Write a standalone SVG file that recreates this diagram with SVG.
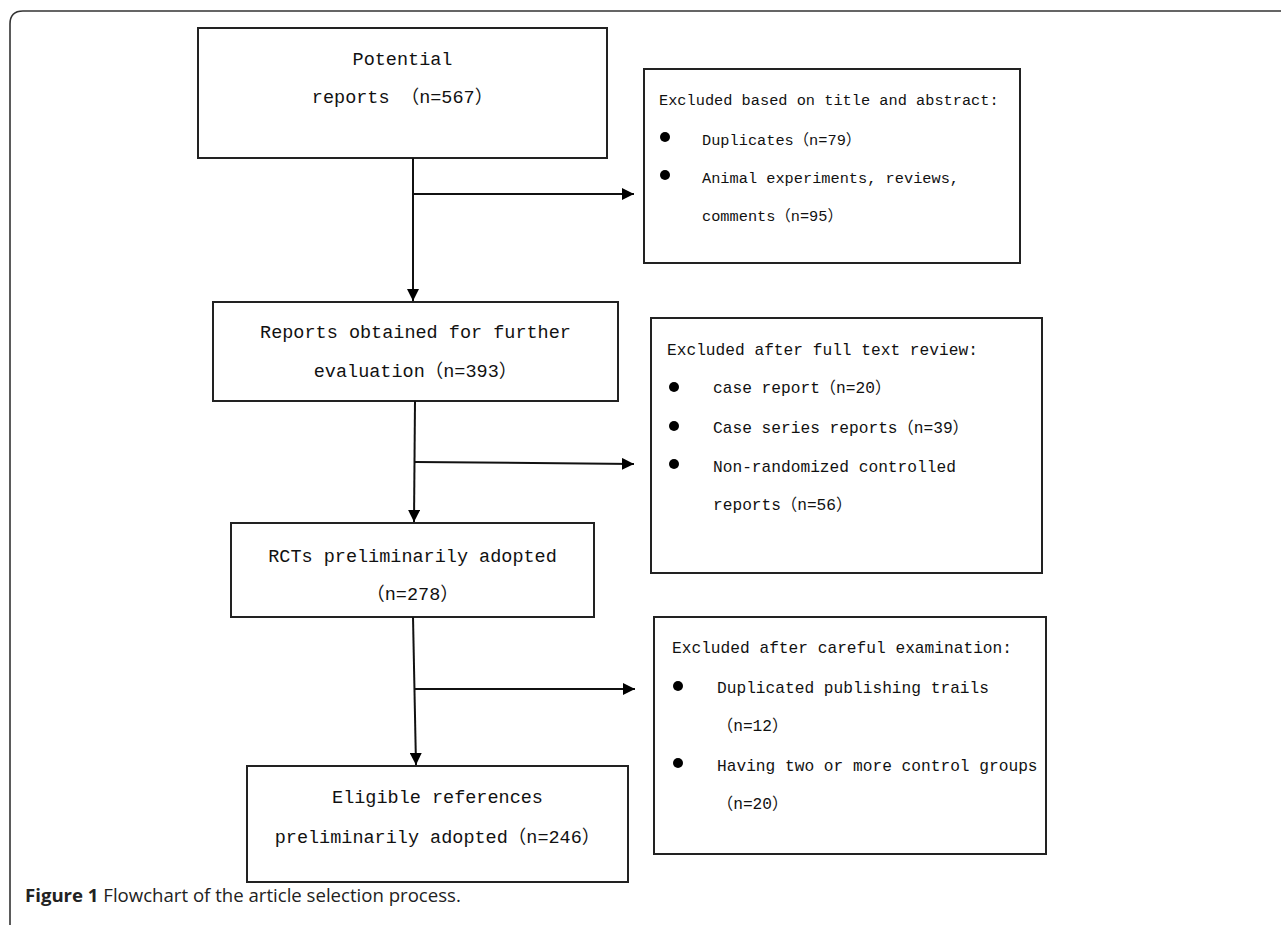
<svg xmlns="http://www.w3.org/2000/svg" width="1281" height="925" viewBox="0 0 1281 925">
<defs>
<style>
.box{fill:#fff;stroke:#222;stroke-width:2}
.t{font-family:"Liberation Mono","Noto Sans CJK SC",monospace;fill:#111}
.tl{font-size:18.5px}
.tr{font-size:16.2px}
.tr2{font-size:15.3px}
.c{text-anchor:middle}
.ln{stroke:#111;stroke-width:2;fill:none}
.bul{fill:#000}
.cap{font-family:"Open Sans","Liberation Sans",sans-serif;font-size:18.6px;fill:#222}
</style>
<marker id="ah" viewBox="0 0 10 10" refX="10" refY="5" markerWidth="6" markerHeight="6" markerUnits="strokeWidth" orient="auto">
<path d="M0,0 L10,5 L0,10 Z" fill="#000"/>
</marker>
</defs>
<rect width="1281" height="925" fill="#fff"/>
<path d="M10,925 V24 Q10,11 23,11 H1281" fill="none" stroke="#333" stroke-width="1.6"/>

<g id="n1">
<rect class="box" x="198" y="28" width="409" height="130"/>
<text class="t tl c" x="402.5" y="65">Potential</text>
<text class="t tl c" x="402.5" y="103">reports （n=567）</text>
</g>

<g id="n2">
<rect class="box" x="644" y="69" width="376" height="194"/>
<text class="t tr2" x="659" y="105">Excluded based on title and abstract:</text>
<circle class="bul" cx="665" cy="137" r="5"/>
<text class="t tr2" x="702" y="145">Duplicates（n=79）</text>
<circle class="bul" cx="665" cy="175" r="5"/>
<text class="t tr2" x="702" y="183">Animal experiments, reviews,</text>
<text class="t tr2" x="702" y="221">comments（n=95）</text>
</g>

<g id="n3">
<rect class="box" x="213" y="302" width="405" height="99"/>
<text class="t tl c" x="415.5" y="338">Reports obtained for further</text>
<text class="t tl c" x="415.5" y="377">evaluation（n=393）</text>
</g>

<g id="n4">
<rect class="box" x="651" y="318" width="391" height="255"/>
<text class="t tr" x="667" y="355">Excluded after full text review:</text>
<circle class="bul" cx="674" cy="387" r="5"/>
<text class="t tr" x="713" y="393">case report（n=20）</text>
<circle class="bul" cx="674" cy="426" r="5"/>
<text class="t tr" x="713" y="433">Case series reports（n=39）</text>
<circle class="bul" cx="674" cy="464" r="5"/>
<text class="t tr" x="713" y="472">Non-randomized controlled</text>
<text class="t tr" x="713" y="510">reports（n=56）</text>
</g>

<g id="n5">
<rect class="box" x="231" y="523" width="363" height="94"/>
<text class="t tl c" x="412.5" y="562">RCTs preliminarily adopted</text>
<text class="t tl c" x="412.5" y="600">（n=278）</text>
</g>

<g id="n6">
<rect class="box" x="247" y="766" width="381" height="116"/>
<text class="t tl c" x="437.5" y="803">Eligible references</text>
<text class="t tl c" x="437.5" y="843">preliminarily adopted（n=246）</text>
</g>

<g id="n7">
<rect class="box" x="654" y="617" width="392" height="237"/>
<text class="t tr" x="672" y="653">Excluded after careful examination:</text>
<circle class="bul" cx="678" cy="686" r="5"/>
<text class="t tr" x="717" y="693">Duplicated publishing trails</text>
<text class="t tr" x="717" y="731">（n=12）</text>
<circle class="bul" cx="678" cy="763" r="5"/>
<text class="t tr" x="717" y="771">Having two or more control groups</text>
<text class="t tr" x="717" y="809">（n=20）</text>
</g>

<g id="connectors">
<line class="ln" x1="413" y1="158" x2="413" y2="301" marker-end="url(#ah)"/>
<line class="ln" x1="413" y1="194" x2="634" y2="194" marker-end="url(#ah)"/>
<line class="ln" x1="415" y1="401" x2="414" y2="522" marker-end="url(#ah)"/>
<line class="ln" x1="415" y1="462" x2="634" y2="464" marker-end="url(#ah)"/>
<line class="ln" x1="413" y1="617" x2="416" y2="765" marker-end="url(#ah)"/>
<line class="ln" x1="415" y1="689" x2="635" y2="689" marker-end="url(#ah)"/>
</g>

<text class="cap" x="25" y="902"><tspan font-weight="bold">Figure 1</tspan> Flowchart of the article selection process.</text>
</svg>
